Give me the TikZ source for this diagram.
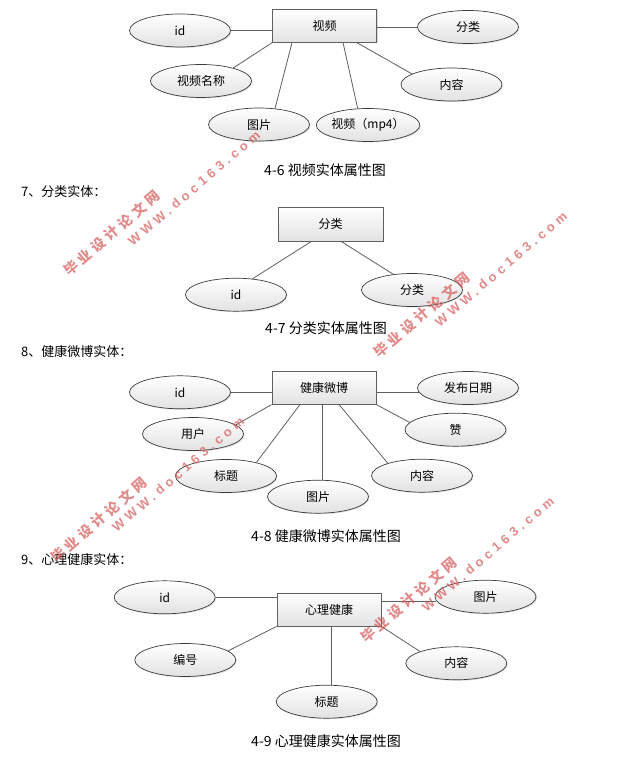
\documentclass[tikz,border=0pt]{standalone}
\usepackage{fontspec}
\setmainfont{Noto Sans CJK SC}
\newfontfamily\wmcjk{Noto Sans CJK SC}[LetterSpace=28]
\newfontfamily\wmlat{Liberation Sans}[LetterSpace=32]
\usetikzlibrary{shapes.geometric,shadows,calc}
\definecolor{wmred}{RGB}{214,88,88}
\definecolor{rectline}{RGB}{95,95,95}
\definecolor{ellline}{RGB}{60,60,60}
\definecolor{linkline}{RGB}{95,95,95}
\definecolor{fillgray}{RGB}{226,226,226}
\begin{document}
\begin{tikzpicture}[x=1pt,y=-1pt,
  ent/.style={draw=rectline, line width=0.8pt, top color=white, bottom color=fillgray,
    minimum width=104pt, minimum height=33pt, inner sep=0pt,
    font=\fontsize{12}{14}\selectfont,
    drop shadow={shadow xshift=1.2pt,shadow yshift=-1.2pt,opacity=0.3,fill=gray}},
  attr/.style={ellipse, draw=ellline, line width=0.7pt, top color=white, bottom color=fillgray,
    minimum width=101pt, minimum height=33pt, inner sep=0pt,
    font=\fontsize{12}{14}\selectfont,
    drop shadow={shadow xshift=1pt,shadow yshift=-1pt,opacity=0.25,fill=gray}},
  link/.style={draw=linkline, line width=0.8pt},
  heading/.style={anchor=west, inner sep=0pt, font=\fontsize{13}{15}\selectfont},
  capt/.style={inner sep=0pt, font=\fontsize{14}{16}\selectfont},
  wmcn/.style={anchor=south west, inner sep=0pt, rotate=40.6, text=wmred, opacity=0.7,
    font=\wmcjk\bfseries\fontsize{14}{14}\selectfont},
  wmen/.style={anchor=south west, inner sep=0pt, rotate=40.6, text=wmred, opacity=0.7,
    font=\wmlat\bfseries\fontsize{13}{13}\selectfont}]
\useasboundingbox (0,0) rectangle (642,762);

% ---------- 4-6 ----------
\node[ent] (v) at (324.5,25.8) {视频};
\node[attr] (id1) at (180,30.5) {id};
\node[attr] (vn) at (201,81) {视频名称};
\node[attr] (pic1) at (259,124.5) {图片};
\node[attr] (mp4) at (368,125) {视频（mp4）};
\node[attr] (fl1) at (468,27) {分类};
\node[attr] (nr1) at (451.5,84.5) {内容};
\draw[link] (id1.east) -- (id1.east -| v.west);
\draw[link] (fl1.west) -- (fl1.west -| v.east);
\draw[link] (v.south west) -- (vn.22);
\draw[link] ($(v.south west)!0.19!(v.south east)$) -- (pic1.45);
\draw[link] ($(v.south west)!0.677!(v.south east)$) -- (mp4.122);
\draw[link] ($(v.south west)!0.81!(v.south east)$) -- (nr1.165);
\node[capt] (c1) at (325,170) {4-6 视频实体属性图};

% ---------- 4-7 ----------
\node[heading] (h7) at (21,192) {7、分类实体：};
\node[ent, minimum width=105pt, minimum height=34pt] (fl2) at (330.5,224) {分类};
\node[attr] (id2) at (236,294.7) {id};
\node[attr] (fl2e) at (412,290) {分类};
\draw[link] ($(fl2.south west)!0.32!(fl2.south east)$) -- (id2.44);
\draw[link] ($(fl2.south west)!0.6!(fl2.south east)$) -- (fl2e.140);
\node[capt] (c2) at (326,328) {4-7 分类实体属性图};

% ---------- 4-8 ----------
\node[heading] (h8) at (21,352) {8、健康微博实体：};
\node[ent] (wb) at (324,387.7) {健康微博};
\node[attr] (id3) at (180,392.3) {id};
\node[attr] (yh) at (193,434) {用户};
\node[attr] (bt3) at (226,476) {标题};
\node[attr] (tp3) at (318,496.7) {图片};
\node[attr] (fb) at (468,388) {发布日期};
\node[attr] (zan) at (455.5,429.7) {赞};
\node[attr] (nr3) at (422,475.7) {内容};
\draw[link] (id3.east) -- (id3.east -| wb.west);
\draw[link] (wb.south west) -- (yh.12);
\draw[link] ($(wb.south west)!0.27!(wb.south east)$) -- (bt3.24);
\draw[link] (tp3.76 |- wb.south) -- (tp3.76);
\draw[link] (fb.185) -- (fb.185 -| wb.east);
\draw[link] (wb.south east) -- (zan.171);
\draw[link] ($(wb.south west)!0.644!(wb.south east)$) -- (nr3.160);
\node[capt] (c3) at (326,536) {4-8 健康微博实体属性图};

% ---------- 4-9 ----------
\node[heading] (h9) at (21,559.5) {9、心理健康实体：};
\node[ent] (xl) at (329,609.5) {心理健康};
\node[attr] (id4) at (164.7,597.3) {id};
\node[attr] (bh) at (185.3,660) {编号};
\node[attr] (bt4) at (326.7,701.7) {标题};
\node[attr] (tp4) at (485.5,596.7) {图片};
\node[attr] (nr4) at (456.3,663.3) {内容};
\draw[link] (id4.east) -- (id4.east -| xl.west);
\draw[link] (xl.south west) -- (bh.12);
\draw[link] (bt4.73 |- xl.south) -- (bt4.73);
\draw[link] (tp4.185) -- (tp4.185 -| xl.east);
\draw[link] (xl.south east) -- (nr4.162);
\node[capt] (c4) at (326,741.5) {4-9 心理健康实体属性图};

% ---------- watermarks ----------
\node[wmcn] (wm1a) at (70,278) {毕业设计论文网};
\node[wmen] (wm1b) at (133,247) {WWW.doc163.com};
\node[wmcn] (wm2a) at (380,360) {毕业设计论文网};
\node[wmen] (wm2b) at (440,328) {WWW.doc163.com};
\node[wmcn] (wm3a) at (57,565) {毕业设计论文网};
\node[wmen] (wm3b) at (117,533) {WWW.doc163.com};
\node[wmcn] (wm4a) at (367,645) {毕业设计论文网};
\node[wmen] (wm4b) at (427,613) {WWW.doc163.com};
\end{tikzpicture}
\end{document}
